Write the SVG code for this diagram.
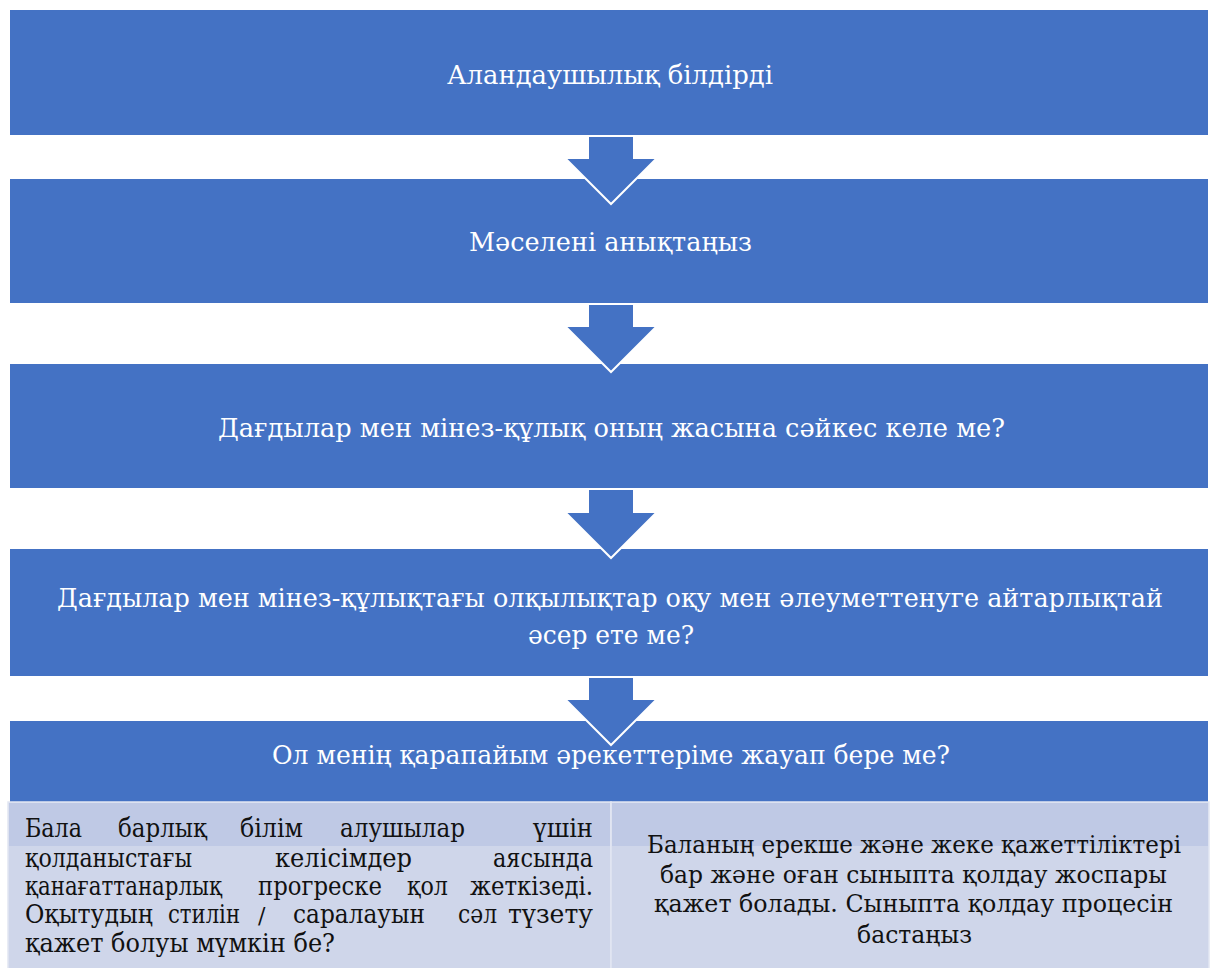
<svg xmlns="http://www.w3.org/2000/svg" width="1218" height="968" viewBox="0 0 1218 968">
<style>
.box{fill:#4472c4}
.lt{fill:#cfd6ea;stroke:#e2e6f2;stroke-width:1.5}
.band{fill:#bfc9e5}
.arr{fill:#4472c4;stroke:#ffffff;stroke-width:2;stroke-linejoin:miter}
text{font-family:"DejaVu Serif","Liberation Serif",serif;font-size:26px}
.wt{fill:#ffffff;text-anchor:middle}
.bk{fill:#111111}
.bc{text-anchor:middle;font-size:24px}
.sl{font-size:22px}
</style>
<rect width="1218" height="968" fill="#ffffff"/>
<g id="node1"><rect class="box" x="10" y="10" width="1198" height="125"/><text class="wt" x="610" y="84" textLength="326" lengthAdjust="spacingAndGlyphs">Аландаушылық білдірді</text></g>
<g id="node2"><rect class="box" x="10" y="179" width="1198" height="124"/><text class="wt" x="610.5" y="251" textLength="283" lengthAdjust="spacingAndGlyphs">Мәселені анықтаңыз</text></g>
<g id="node3"><rect class="box" x="10" y="364" width="1198" height="124"/><text class="wt" x="611.5" y="437" textLength="787" lengthAdjust="spacingAndGlyphs">Дағдылар мен мінез-құлық оның жасына сәйкес келе ме?</text></g>
<g id="node4"><rect class="box" x="10" y="549" width="1198" height="127"/><text class="wt" x="610" y="607" textLength="1106" lengthAdjust="spacingAndGlyphs">Дағдылар мен мінез-құлықтағы олқылықтар оқу мен әлеуметтенуге айтарлықтай</text><text class="wt" x="611" y="644" textLength="166" lengthAdjust="spacingAndGlyphs">әсер ете ме?</text></g>
<g id="node5"><rect class="box" x="10" y="721" width="1198" height="81"/><text class="wt" x="611" y="764" textLength="678" lengthAdjust="spacingAndGlyphs">Ол менің қарапайым әрекеттеріме жауап бере ме?</text></g>
<g id="node6">
<rect class="lt" x="8" y="802" width="603" height="168"/>
<rect class="band" x="9" y="803" width="601" height="43"/>
<text class="bk" x="25" y="837" textLength="57" lengthAdjust="spacingAndGlyphs">Бала</text>
<text class="bk" x="118" y="837" textLength="89" lengthAdjust="spacingAndGlyphs">барлық</text>
<text class="bk" x="240" y="837" textLength="63" lengthAdjust="spacingAndGlyphs">білім</text>
<text class="bk" x="340" y="837" textLength="125" lengthAdjust="spacingAndGlyphs">алушылар</text>
<text class="bk" x="533" y="837" textLength="60" lengthAdjust="spacingAndGlyphs">үшін</text>
<text class="bk" x="25" y="867" textLength="167" lengthAdjust="spacingAndGlyphs">қолданыстағы</text>
<text class="bk" x="275" y="867" textLength="137" lengthAdjust="spacingAndGlyphs">келісімдер</text>
<text class="bk" x="493" y="867" textLength="100" lengthAdjust="spacingAndGlyphs">аясында</text>
<text class="bk" x="25" y="895" textLength="197" lengthAdjust="spacingAndGlyphs">қанағаттанарлық</text>
<text class="bk" x="258" y="895" textLength="124" lengthAdjust="spacingAndGlyphs">прогреске</text>
<text class="bk" x="407" y="895" textLength="41" lengthAdjust="spacingAndGlyphs">қол</text>
<text class="bk" x="470" y="895" textLength="123" lengthAdjust="spacingAndGlyphs">жеткізеді.</text>
<text class="bk" x="25" y="923" textLength="128" lengthAdjust="spacingAndGlyphs">Оқытудың</text>
<text class="bk" x="168" y="923" textLength="72" lengthAdjust="spacingAndGlyphs">стилін</text>
<text class="bk sl" x="258" y="923">/</text>
<text class="bk" x="293" y="923" textLength="132" lengthAdjust="spacingAndGlyphs">саралауын</text>
<text class="bk" x="458" y="923" textLength="39" lengthAdjust="spacingAndGlyphs">сәл</text>
<text class="bk" x="508" y="923" textLength="85" lengthAdjust="spacingAndGlyphs">түзету</text>
<text class="bk" x="25" y="952" textLength="310" lengthAdjust="spacingAndGlyphs">қажет болуы мүмкін бе?</text>
</g>
<g id="node7">
<rect class="lt" x="611" y="802" width="598" height="168"/>
<rect class="band" x="612" y="803" width="596" height="43"/>
<text class="bk bc" x="914" y="853" textLength="534" lengthAdjust="spacingAndGlyphs">Баланың ерекше және жеке қажеттіліктері</text>
<text class="bk bc" x="913.5" y="883" textLength="507" lengthAdjust="spacingAndGlyphs">бар және оған сыныпта қолдау жоспары</text>
<text class="bk bc" x="913.5" y="912" textLength="519" lengthAdjust="spacingAndGlyphs">қажет болады. Сыныпта қолдау процесін</text>
<text class="bk bc" x="914.5" y="943" textLength="115" lengthAdjust="spacingAndGlyphs">бастаңыз</text>
</g>
<g id="connectors">
<polygon class="arr" points="588,136 634,136 634,158 657,158 611,204 565,158 588,158"/>
<polygon class="arr" points="588,304 634,304 634,326 657,326 611,372 565,326 588,326"/>
<polygon class="arr" points="588,489 634,489 634,512 657,512 611,558 565,512 588,512"/>
<polygon class="arr" points="588,677 634,677 634,699 657,699 611,745 565,699 588,699"/>
</g>
</svg>
